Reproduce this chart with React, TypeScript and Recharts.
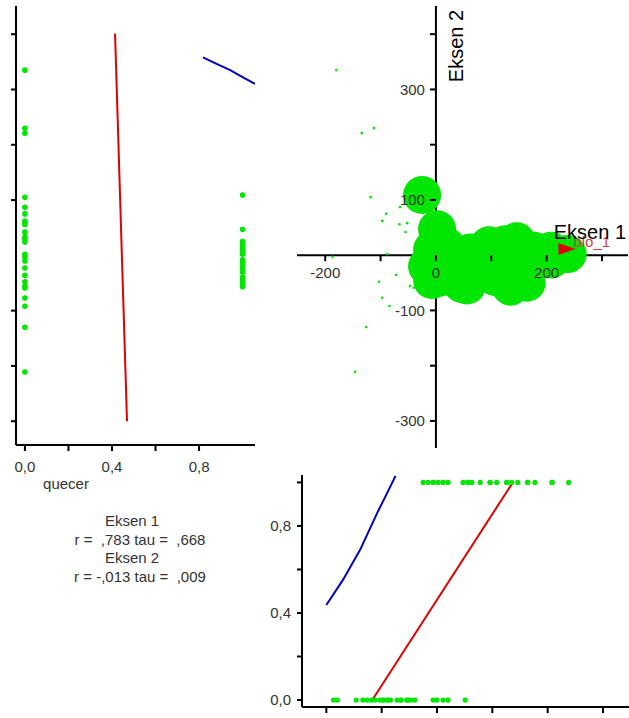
import React from 'react';
import { ScatterChart, Scatter, XAxis, YAxis, ReferenceLine, ReferenceDot } from 'recharts';

const GREEN = '#00e600';
const RED = '#e00000';
const BLUE = '#0000bb';
const INK = '#333';
const FONT = '"Liberation Sans", Arial, sans-serif';

// site scores, quecer = 0
const ABSENT_E1 = [-180, -134, -112, -118, -90, -65, -97, -66, -52, -55, -187, -88, -72, -103, -47, -40, -97, -84, -126, -146, -7, 0, 11, 20, 51];
const ABSENT_E2 = [335, 221, 230, 105, 75, 87, 62, 56, 58, 42, -3, 2, -36, -48, -56, -59, -77, -92, -130, -211, 33, 24, -10, -23, 29];
// site scores, quecer = 1
const PRESENT_E1 = [-25, -16, -7, -7, 2, 11, 11, 20, 47, 56, 56, 63, 78, 96, 96, 108, 126, 126, 135, 146, 164, 164, 177, 208, 208, 238];
const PRESENT_E2 = [109, -20, -45, 10, 47, -10, -40, 15, -52, -30, -55, 5, -15, 18, -30, -40, 20, -25, -57, 25, -50, -15, 8, 8, -8, 2];

// quecer vs Eksen 2 (left panel)
const LEFT_RED_Q = [0.414, 0.469];
const LEFT_RED_E2 = [401, -300];
const LEFT_BLUE_Q = [0.818, 0.883, 0.943, 1.002, 1.057];
const LEFT_BLUE_E2 = [358, 346, 335, 322, 310];

// quecer vs Eksen 1 (bottom panel)
const BOTTOM_RED_E1 = [-117, 137];
const BOTTOM_RED_Q = [0, 1];
const BOTTOM_BLUE_E1 = [-200, -170, -139, -108, -90, -75];
const BOTTOM_BLUE_Q = [0.437, 0.552, 0.69, 0.86, 0.952, 1.03];

// bio_1 vector
const BIO1_FROM = [58, 11];
const BIO1_TIP = [252, 11];

const E1_DOMAIN = [-251, 347];
const E2_DOMAIN = [-349, 451];
const E1_TICKS = [-200, -100, 0, 100, 200, 300];
const E1_LABELS = [-200, 0, 200];
const E2_TICKS = [400, 300, 200, 100, -100, -200, -300];
const E2_LABELS = [300, 100, -100, -300];
const Q_TICKS_X = [0, 0.2, 0.4, 0.6, 0.8];
const Q_TICKS_Y = [0, 0.2, 0.4, 0.6, 0.8, 1.0];
const Q_LABELS = [0, 0.4, 0.8];

const STATS = [
  { text: 'Eksen 1', x: 132 },
  { text: 'r =  ,783 tau =  ,668', x: 140 },
  { text: 'Eksen 2', x: 132 },
  { text: 'r = -,013 tau =  ,009', x: 140 },
];

const absent = ABSENT_E1.map((e1, i) => ({ e1, e2: ABSENT_E2[i], q: 0 }));
const present = PRESENT_E1.map((e1, i) => ({ e1, e2: PRESENT_E2[i], q: 1 }));
const leftRed = LEFT_RED_Q.map((q, i) => ({ q, e2: LEFT_RED_E2[i] }));
const leftBlue = LEFT_BLUE_Q.map((q, i) => ({ q, e2: LEFT_BLUE_E2[i] }));
const bottomRed = BOTTOM_RED_E1.map((e1, i) => ({ e1, q: BOTTOM_RED_Q[i] }));
const bottomBlue = BOTTOM_BLUE_E1.map((e1, i) => ({ e1, q: BOTTOM_BLUE_Q[i] }));

const txt = { fontFamily: FONT, fontSize: 15, fill: INK };
const axisStroke = { stroke: '#000', strokeWidth: 2 };
const comma = (v: number) => v.toFixed(1).replace('.', ',');
const isLabel = (v: number) => Q_LABELS.some((l) => Math.abs(l - v) < 1e-6);

const dot = (r: number) => (p: any) => <circle cx={p.cx} cy={p.cy} r={r} fill={GREEN} />;
const noDot = () => <g />;

function QTickBelow(p: any) {
  if (!isLabel(p.payload.value)) return <g />;
  return <text x={p.x} y={p.y} dy={19} textAnchor="middle" {...txt}>{comma(p.payload.value)}</text>;
}

function QTickLeft(p: any) {
  if (!isLabel(p.payload.value)) return <g />;
  return <text x={p.x} y={p.y} dy={5} textAnchor="end" {...txt}>{comma(p.payload.value)}</text>;
}

const xMark = (value: number) => (p: any) => (
  <g>
    <line x1={p.cx} y1={p.cy} x2={p.cx} y2={p.cy + 6} {...axisStroke} />
    {E1_LABELS.includes(value) && (
      <text x={p.cx} y={p.cy + 23} textAnchor="middle" {...txt}>{value}</text>
    )}
  </g>
);

const yMark = (value: number) => (p: any) => (
  <g>
    <line x1={p.cx} y1={p.cy} x2={p.cx - 6} y2={p.cy} {...axisStroke} />
    {E2_LABELS.includes(value) && (
      <text x={p.cx - 11} y={p.cy + 5.5} textAnchor="end" {...txt}>{value}</text>
    )}
  </g>
);

function LeftPanel() {
  return (
    <ScatterChart width={260} height={475} margin={{ top: 6, right: 5, left: 0, bottom: 0 }}>
      <XAxis type="number" dataKey="q" domain={[-0.041, 1.057]} ticks={Q_TICKS_X} interval={0}
        allowDataOverflow axisLine={axisStroke} tickLine={axisStroke} tickSize={6} tickMargin={2}
        height={30} tick={QTickBelow} />
      <YAxis type="number" dataKey="e2" domain={[-343, 451]} ticks={E2_TICKS} interval={0}
        allowDataOverflow axisLine={axisStroke} tickLine={axisStroke} tickSize={5}
        width={16} tick={() => <g />} />
      <Scatter data={leftRed} line={{ stroke: RED, strokeWidth: 2 }} shape={noDot} isAnimationActive={false} />
      <Scatter data={leftBlue} line={{ stroke: BLUE, strokeWidth: 2 }} shape={noDot} isAnimationActive={false} />
      <Scatter data={absent} shape={dot(2.8)} isAnimationActive={false} />
      <Scatter data={present} shape={dot(2.8)} isAnimationActive={false} />
    </ScatterChart>
  );
}

function BiplotPanel() {
  return (
    <ScatterChart width={331} height={460} margin={{ top: 6, right: 0, left: 0, bottom: 12 }}>
      <XAxis type="number" dataKey="e1" domain={E1_DOMAIN} hide allowDataOverflow />
      <YAxis type="number" dataKey="e2" domain={E2_DOMAIN} hide allowDataOverflow />
      <Scatter data={present} shape={dot(19)} isAnimationActive={false} />
      <Scatter data={absent} shape={dot(1.3)} isAnimationActive={false} />
      <ReferenceLine x={0} stroke="#000" strokeWidth={2} />
      <ReferenceLine y={0} stroke="#000" strokeWidth={2} />
      {E1_TICKS.map((t) => (
        <ReferenceDot key={`x${t}`} x={t} y={0} r={0} shape={xMark(t)} />
      ))}
      {E2_TICKS.map((t) => (
        <ReferenceDot key={`y${t}`} x={0} y={t} r={0} shape={yMark(t)} />
      ))}
      <ReferenceDot x={BIO1_TIP[0]} y={BIO1_TIP[1]} r={0} shape={(p: any) => (
        <text x={p.cx - 2} y={p.cy - 2} fontFamily={FONT} fontSize={15} fill="#d84040">bio_1</text>
      )} />
      <ReferenceLine
        segment={[{ x: BIO1_FROM[0], y: BIO1_FROM[1] }, { x: BIO1_TIP[0], y: BIO1_TIP[1] }]}
        stroke={RED} strokeWidth={2} />
      <ReferenceDot x={BIO1_TIP[0]} y={BIO1_TIP[1]} r={0} shape={(p: any) => (
        <polygon points={`${p.cx},${p.cy} ${p.cx - 17},${p.cy - 6} ${p.cx - 17},${p.cy + 6}`} fill={RED} />
      )} />
      <ReferenceDot x={E1_DOMAIN[1]} y={0} r={0} ifOverflow="visible" shape={(p: any) => (
        <text x={p.cx - 2} y={p.cy - 16} textAnchor="end" fontFamily={FONT} fontSize={20} fill="#000">Eksen 1</text>
      )} />
      <ReferenceDot x={0} y={E2_DOMAIN[1]} r={0} ifOverflow="visible" shape={(p: any) => (
        <text x={0} y={0} transform={`translate(${p.cx + 27},${p.cy + 40}) rotate(-90)`}
          textAnchor="middle" fontFamily={FONT} fontSize={20} fill="#000">Eksen 2</text>
      )} />
    </ScatterChart>
  );
}

function BottomPanel() {
  return (
    <ScatterChart width={379} height={258} margin={{ top: 15, right: 0, left: 0, bottom: 0 }}>
      <XAxis type="number" dataKey="e1" domain={[-244, 347]} ticks={E1_TICKS} interval={0}
        allowDataOverflow axisLine={axisStroke} tickLine={axisStroke} tickSize={6}
        height={11} tick={() => <g />} />
      <YAxis type="number" dataKey="q" domain={[-0.032, 1.034]} ticks={Q_TICKS_Y} interval={0}
        allowDataOverflow axisLine={axisStroke} tickLine={axisStroke} tickSize={5} tickMargin={6}
        width={52} tick={QTickLeft} />
      <Scatter data={bottomBlue} line={{ stroke: BLUE, strokeWidth: 2 }} shape={noDot} isAnimationActive={false} />
      <Scatter data={bottomRed} line={{ stroke: RED, strokeWidth: 2 }} shape={noDot} isAnimationActive={false} />
      <Scatter data={absent} shape={dot(2.6)} isAnimationActive={false} />
      <Scatter data={present} shape={dot(2.6)} isAnimationActive={false} />
    </ScatterChart>
  );
}

export default function App() {
  return (
    <div style={{ position: 'absolute', left: 0, top: 0, width: 629, height: 718, background: '#fff', overflow: 'hidden' }}>
      <div style={{ position: 'absolute', left: 0, top: 0 }}><LeftPanel /></div>
      <div style={{ position: 'absolute', left: 297, top: 0 }}><BiplotPanel /></div>
      <div style={{ position: 'absolute', left: 250, top: 460 }}><BottomPanel /></div>
      <svg style={{ position: 'absolute', left: 0, top: 470 }} width={260} height={120}>
        <text x={66} y={19} textAnchor="middle" {...txt}>quecer</text>
        {STATS.map((s, i) => (
          <text key={i} x={s.x} y={56 + i * 18.5} textAnchor="middle" style={{ whiteSpace: 'pre' }} {...txt}>{s.text}</text>
        ))}
      </svg>
    </div>
  );
}
